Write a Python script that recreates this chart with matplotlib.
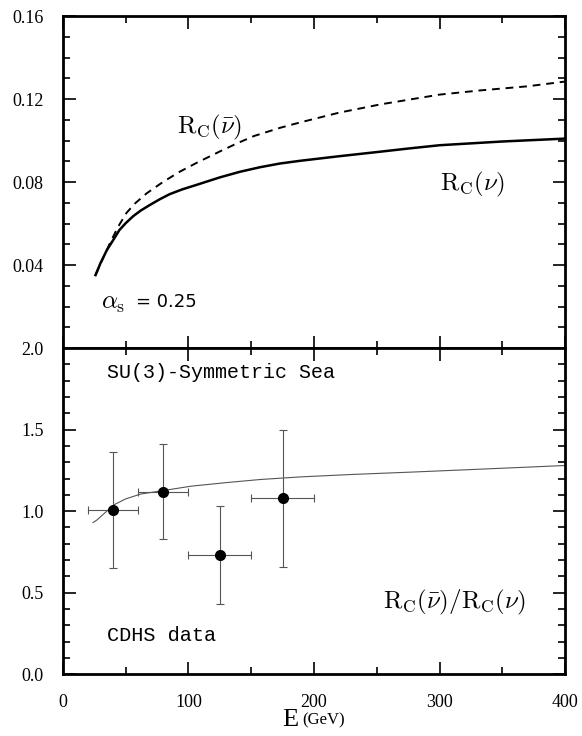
import numpy as np
import matplotlib
matplotlib.use('Agg')
import matplotlib.pyplot as plt
from matplotlib.ticker import MultipleLocator

plt.rcParams['font.family'] = ['Liberation Serif', 'DejaVu Serif']
plt.rcParams['mathtext.fontset'] = 'cm'

# top panel: R_C curves
e_nu = [26, 30, 35, 40, 45, 50, 56, 62, 69, 77, 85, 95, 106, 125, 141, 157,
        173, 189, 220, 250, 275, 300, 350, 400]
rc_nu = [0.0352, 0.041, 0.0472, 0.052, 0.0569, 0.0602, 0.0636, 0.0663,
         0.0689, 0.0717, 0.0742, 0.0765, 0.0786, 0.0823, 0.085, 0.0872,
         0.089, 0.0903, 0.0925, 0.0945, 0.0962, 0.0978, 0.0996, 0.101]
e_nubar = [26, 31, 37.5, 44, 50.7, 57.4, 66.7, 80, 93, 106.5, 125, 138, 152,
           173, 189, 220, 253, 300, 332, 370, 400]
rc_nubar = [0.0352, 0.042, 0.0506, 0.0585, 0.0652, 0.0697, 0.0746, 0.0802,
            0.085, 0.0893, 0.0948, 0.0985, 0.1022, 0.1062, 0.1088, 0.1135,
            0.1175, 0.1222, 0.1242, 0.1262, 0.1285]

# bottom panel: ratio curve and CDHS data
e_ratio = [24, 27, 35, 41, 50, 62, 83, 102, 130, 157, 189, 230, 279, 340, 400]
ratio = [0.93, 0.945, 1.0, 1.04, 1.075, 1.105, 1.13, 1.153, 1.175, 1.194,
         1.21, 1.225, 1.24, 1.26, 1.28]

e_data = [40, 80, 125, 175]
e_err = [20, 20, 25, 25]
r_data = [1.01, 1.12, 0.73, 1.08]
r_lo = [0.65, 0.83, 0.43, 0.66]
r_hi = [1.36, 1.41, 1.03, 1.50]

fig = plt.figure(figsize=(5.82, 7.36), dpi=100)
ax1 = fig.add_axes([0.108, 0.527, 0.863, 0.451])
ax2 = fig.add_axes([0.108, 0.084, 0.863, 0.443], sharex=ax1)

ax1.plot(e_nu, rc_nu, color='black', lw=1.8)
ax1.plot(e_nubar, rc_nubar, color='black', lw=1.4, ls=(0, (4, 3)))
ax1.set_ylim(0, 0.16)
ax1.set_yticks([0.04, 0.08, 0.12, 0.16])
ax1.set_yticklabels(['0.04', '0.08', '0.12', '0.16'])
ax1.yaxis.set_minor_locator(MultipleLocator(0.01))

ax1.text(91, 0.1036, r'$\mathrm{R_C}(\bar{\nu})$', fontsize=18)
ax1.text(300, 0.076, r'$\mathrm{R_C}(\nu)$', fontsize=18)
ax1.text(30, 0.019, r'$\alpha_{\rm s}$', fontsize=18)
ax1.text(58, 0.020, '= 0.25', fontsize=13, family=['DejaVu Sans'])

ax2.plot(e_ratio, ratio, color='#555555', lw=0.8)
yerr = [np.subtract(r_data, r_lo), np.subtract(r_hi, r_data)]
ax2.errorbar(e_data, r_data, xerr=e_err, yerr=yerr, fmt='o', color='black',
             ms=7, ecolor='#555555', elinewidth=0.8, capsize=3, capthick=0.8)
ax2.set_ylim(0, 2.0)
ax2.set_yticks([0.0, 0.5, 1.0, 1.5, 2.0])
ax2.set_yticklabels(['0.0', '0.5', '1.0', '1.5', '2.0'])
ax2.yaxis.set_minor_locator(MultipleLocator(0.1))
ax2.set_xlim(0, 400)
ax2.set_xticks([0, 100, 200, 300, 400])
ax2.xaxis.set_minor_locator(MultipleLocator(50))

ax2.text(35, 1.853, 'SU(3)-Symmetric Sea', fontsize=14.4, va='center',
         family=['Liberation Mono'])
ax2.text(35, 0.24, 'CDHS data', fontsize=14.6, va='center',
         family=['Liberation Mono'])
ax2.text(255, 0.405, r'$\mathrm{R_C}(\bar{\nu})/\mathrm{R_C}(\nu)$', fontsize=18)

ax2.text(0.436, -0.16, 'E', transform=ax2.transAxes, fontsize=19)
ax2.text(0.476, -0.155, '(GeV)', transform=ax2.transAxes, fontsize=12)

for ax in (ax1, ax2):
    for sp in ax.spines.values():
        sp.set_linewidth(2)
    ax.tick_params(which='both', direction='in', top=True, right=True,
                   labelsize=13, width=1.2)
    ax.tick_params(which='major', length=9)
    ax.tick_params(which='minor', length=5)
    ax.tick_params(axis='y', pad=14)
ax1.tick_params(labelbottom=False)
ax2.tick_params(axis='x', pad=14)

fig.savefig('out.png', dpi=100)
